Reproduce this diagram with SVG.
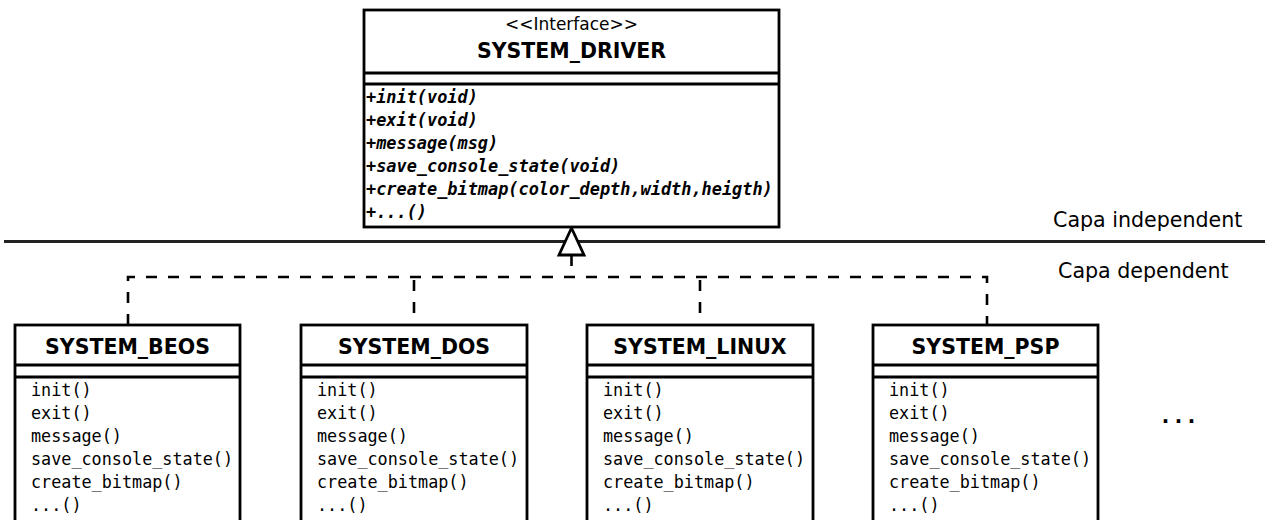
<svg xmlns="http://www.w3.org/2000/svg" width="1265" height="520" viewBox="0 0 1265 520">
<style>
.box{fill:#fff;stroke:#000;stroke-width:2.8}
.sep{stroke:#000;stroke-width:2.8}
.title{font-family:"DejaVu Sans",sans-serif;font-weight:bold;font-size:20.5px;text-anchor:middle;fill:#000}
.stereo{font-family:"DejaVu Sans",sans-serif;font-size:17px;text-anchor:middle;fill:#000}
.imeth{font-family:"DejaVu Sans Mono",monospace;font-weight:bold;font-style:italic;font-size:16.9px;fill:#000}
.meth{font-family:"DejaVu Sans Mono",monospace;font-size:16.8px;fill:#000}
.layer{font-family:"DejaVu Sans",sans-serif;font-size:20.6px;fill:#000}
.dash{fill:none;stroke:#000;stroke-width:2.6;stroke-dasharray:11 11}
</style>

<line x1="4" y1="241.5" x2="1265" y2="241.5" stroke="#222" stroke-width="2.8"/>
<text class="layer" x="1053" y="227">Capa independent</text>
<text class="layer" x="1058" y="278">Capa dependent</text>

<g id="connectors">
<path class="dash" d="M128,325 V277 H987 V325"/>
<line class="dash" x1="414" y1="277" x2="414" y2="325" stroke-dashoffset="-3"/>
<line class="dash" x1="700" y1="277" x2="700" y2="325" stroke-dashoffset="-3"/>
<line class="dash" x1="571.5" y1="255" x2="571.5" y2="277"/>
<polygon points="571.5,228 559,255 584,255" fill="#fff" stroke="#000" stroke-width="2.8" stroke-linejoin="miter"/>
</g>

<g id="system_driver">
<rect class="box" x="364" y="10" width="415" height="217"/>
<line class="sep" x1="364" y1="73" x2="779" y2="73"/>
<line class="sep" x1="364" y1="84" x2="779" y2="84"/>
<text class="stereo" x="571.5" y="30">&lt;&lt;Interface&gt;&gt;</text>
<text class="title" x="571.5" y="58">SYSTEM_DRIVER</text>
<text class="imeth" x="366" y="103">+init(void)</text>
<text class="imeth" x="366" y="126">+exit(void)</text>
<text class="imeth" x="366" y="149">+message(msg)</text>
<text class="imeth" x="366" y="172">+save_console_state(void)</text>
<text class="imeth" x="366" y="195">+create_bitmap(color_depth,width,heigth)</text>
<text class="imeth" x="366" y="218">+...()</text>
</g>

<g id="system_beos">
<rect class="box" x="15" y="325" width="225" height="210"/>
<line class="sep" x1="15" y1="365" x2="240" y2="365"/>
<line class="sep" x1="15" y1="377" x2="240" y2="377"/>
<text class="title" x="127.5" y="354">SYSTEM_BEOS</text>
<text class="meth" x="31" y="396">init()</text>
<text class="meth" x="31" y="419">exit()</text>
<text class="meth" x="31" y="442">message()</text>
<text class="meth" x="31" y="465">save_console_state()</text>
<text class="meth" x="31" y="488">create_bitmap()</text>
<text class="meth" x="31" y="511">...()</text>
</g>

<g id="system_dos">
<rect class="box" x="301" y="325" width="226" height="210"/>
<line class="sep" x1="301" y1="365" x2="527" y2="365"/>
<line class="sep" x1="301" y1="377" x2="527" y2="377"/>
<text class="title" x="414" y="354">SYSTEM_DOS</text>
<text class="meth" x="317" y="396">init()</text>
<text class="meth" x="317" y="419">exit()</text>
<text class="meth" x="317" y="442">message()</text>
<text class="meth" x="317" y="465">save_console_state()</text>
<text class="meth" x="317" y="488">create_bitmap()</text>
<text class="meth" x="317" y="511">...()</text>
</g>

<g id="system_linux">
<rect class="box" x="587" y="325" width="226" height="210"/>
<line class="sep" x1="587" y1="365" x2="813" y2="365"/>
<line class="sep" x1="587" y1="377" x2="813" y2="377"/>
<text class="title" x="700" y="354">SYSTEM_LINUX</text>
<text class="meth" x="603" y="396">init()</text>
<text class="meth" x="603" y="419">exit()</text>
<text class="meth" x="603" y="442">message()</text>
<text class="meth" x="603" y="465">save_console_state()</text>
<text class="meth" x="603" y="488">create_bitmap()</text>
<text class="meth" x="603" y="511">...()</text>
</g>

<g id="system_psp">
<rect class="box" x="873" y="325" width="225" height="210"/>
<line class="sep" x1="873" y1="365" x2="1098" y2="365"/>
<line class="sep" x1="873" y1="377" x2="1098" y2="377"/>
<text class="title" x="985.5" y="354">SYSTEM_PSP</text>
<text class="meth" x="889" y="396">init()</text>
<text class="meth" x="889" y="419">exit()</text>
<text class="meth" x="889" y="442">message()</text>
<text class="meth" x="889" y="465">save_console_state()</text>
<text class="meth" x="889" y="488">create_bitmap()</text>
<text class="meth" x="889" y="511">...()</text>
</g>

<text x="1159" y="423" font-family="DejaVu Sans Mono, monospace" font-weight="bold" font-size="21.5">...</text>
</svg>
